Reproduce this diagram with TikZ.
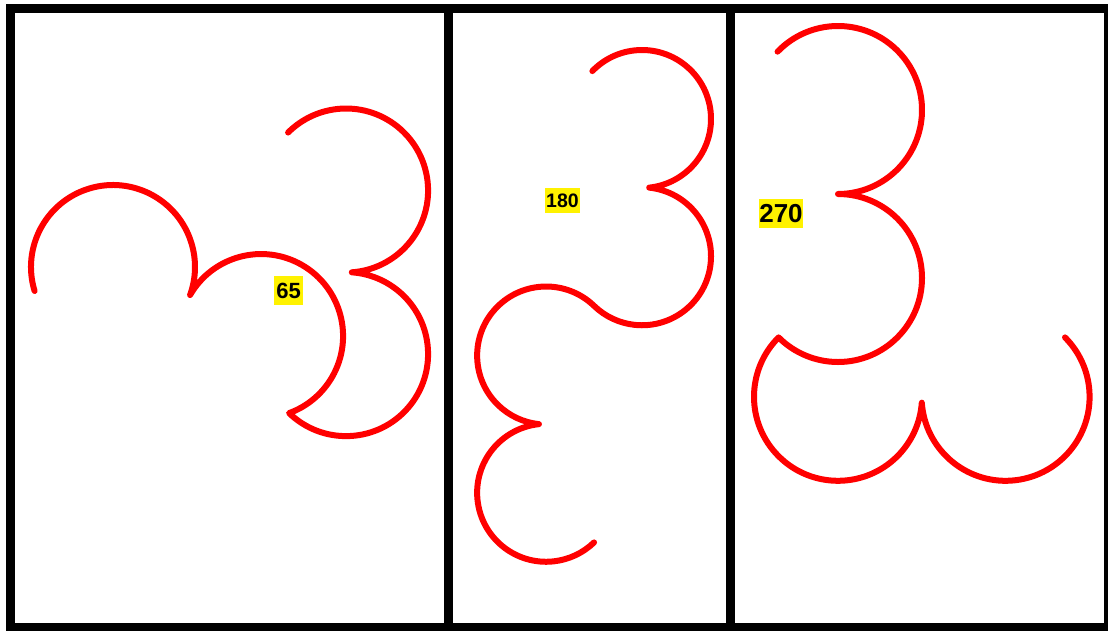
\documentclass[tikz,border=0pt]{standalone}
\usepackage{fontspec}
\setmainfont{Liberation Sans}
\usepackage{tikz}

\begin{document}
\begin{tikzpicture}[
x=1pt,y=1pt,
frame/.style={draw=black, line width=9pt},
curve/.style={draw=red, line width=6pt, line join=round, line cap=round},
tag/.style={fill=yellow, text=black, inner sep=0pt},
]
\useasboundingbox (0,0) rectangle (1108,-630);

%draw the three panels
\foreach \xa/\xb in {10.5/448, 448/730.5, 730.5/1108.5}
  \draw[frame] (\xa,-8) rectangle (\xb,-627.5);

%panel 1, r = 82
\draw[curve] (113,-267) ++(197:82)
  arc[start angle=197, end angle=-20, radius=82]
  arc[start angle=150, end angle=-70, radius=82]
  arc[start angle=226, end angle=446, radius=82]
  arc[start angle=274, end angle=495, radius=82];

%panel 2, r = 69
\draw[curve] (642,-119) ++(136:69)
  arc[start angle=136, end angle=-84, radius=69]
  arc[start angle=84, end angle=-134, radius=69]
  arc[start angle=46, end angle=264, radius=69]
  arc[start angle=96, end angle=314, radius=69];

%panel 3, r = 84
\draw[curve] (838,-110) ++(136:84)
  arc[start angle=136, end angle=-90, radius=84]
  arc[start angle=90, end angle=-135, radius=84]
  arc[start angle=135, end angle=356, radius=84]
  arc[start angle=184, end angle=405, radius=84];

%angle labels
\node(a65)[tag, minimum width=29pt, minimum height=29pt, font=\bfseries\fontsize{22}{22}\selectfont] at (288.5,-290.5){65};
\node(a180)[tag, minimum width=35pt, minimum height=25pt, font=\bfseries\fontsize{19.5}{20}\selectfont] at (562.5,-200.5){180};
\node(a270)[tag, minimum width=44pt, minimum height=29pt, font=\bfseries\fontsize{26}{26}\selectfont] at (781,-213.5){270};

\end{tikzpicture}
\end{document}
